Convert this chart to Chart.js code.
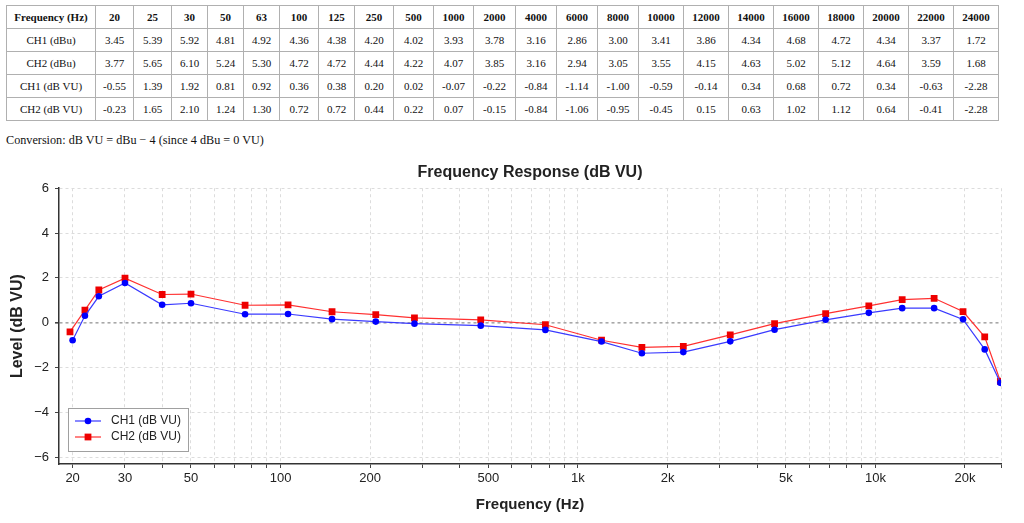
<!DOCTYPE html>
<html>
<head>
<meta charset="utf-8">
<script src="https://cdn.jsdelivr.net/npm/chart.js@4.4.1/dist/chart.umd.min.js"></script>
<style>
  body { margin: 0; background: #fff; width: 1024px; height: 523px; position: relative; overflow: hidden; }
  #tbl { position: absolute; left: 6px; top: 5px; border-collapse: collapse; table-layout: fixed; width: 992px;
         font-family: 'Liberation Serif', 'Times New Roman', serif; font-size: 11px; color: #111; }
  #tbl td, #tbl th { border: 1px solid #b0b0b0; height: 22px; padding: 0; text-align: center; }
  #tbl th { font-weight: bold; }
  #note { position: absolute; left: 6px; top: 133px; font-family: 'Liberation Serif', 'Times New Roman', serif; font-size: 12.2px; color: #111; }
  #wrap { position: absolute; left: 0; top: 150px; width: 1024px; height: 373px; }
</style>
</head>
<body>
<table id="tbl"></table>
<div id="note">Conversion: dB VU = dBu − 4 (since 4 dBu = 0 VU)</div>
<div id="wrap"><canvas id="fr-chart"></canvas></div>
<script>
// table values
const tableFreqs = ['20', '25', '30', '50', '63', '100', '125', '250', '500', '1000', '2000', '4000', '6000', '8000', '10000', '12000', '14000', '16000', '18000', '20000', '22000', '24000'];
const ch1Dbu = ['3.45', '5.39', '5.92', '4.81', '4.92', '4.36', '4.38', '4.20', '4.02', '3.93', '3.78', '3.16', '2.86', '3.00', '3.41', '3.86', '4.34', '4.68', '4.72', '4.34', '3.37', '1.72'];
const ch2Dbu = ['3.77', '5.65', '6.10', '5.24', '5.30', '4.72', '4.72', '4.44', '4.22', '4.07', '3.85', '3.16', '2.94', '3.05', '3.55', '4.15', '4.63', '5.02', '5.12', '4.64', '3.59', '1.68'];
const ch1Vu = ['-0.55', '1.39', '1.92', '0.81', '0.92', '0.36', '0.38', '0.20', '0.02', '-0.07', '-0.22', '-0.84', '-1.14', '-1.00', '-0.59', '-0.14', '0.34', '0.68', '0.72', '0.34', '-0.63', '-2.28'];
const ch2Vu = ['-0.23', '1.65', '2.10', '1.24', '1.30', '0.72', '0.72', '0.44', '0.22', '0.07', '-0.15', '-0.84', '-1.06', '-0.95', '-0.45', '0.15', '0.63', '1.02', '1.12', '0.64', '-0.41', '-2.28'];

// chart values
const ch1Freqs = [20, 22, 24.5, 30, 40, 50, 76, 106, 149, 209, 282, 471, 777, 1200, 1640, 2260, 3250, 4580, 6800, 9500, 12300, 15750, 19700, 23300, 26300];
const ch1Level = [-0.78, 0.31, 1.18, 1.77, 0.8, 0.87, 0.38, 0.39, 0.16, 0.05, -0.04, -0.13, -0.32, -0.84, -1.36, -1.31, -0.83, -0.31, 0.13, 0.44, 0.65, 0.65, 0.15, -1.19, -2.68];
const ch2Freqs = [19.6, 22, 24.5, 30, 40, 50, 76, 106, 149, 209, 282, 471, 777, 1200, 1640, 2260, 3250, 4580, 6800, 9500, 12300, 15750, 19700, 23300, 26300];
const ch2Level = [-0.41, 0.56, 1.46, 1.99, 1.26, 1.28, 0.78, 0.8, 0.49, 0.36, 0.22, 0.13, -0.09, -0.78, -1.1, -1.05, -0.54, -0.04, 0.41, 0.75, 1.03, 1.09, 0.5, -0.63, -2.61];

const xTickValues = [20, 30, 50, 100, 200, 500, 1000, 2000, 5000, 10000, 20000];
const xTickLabels = ['20', '30', '50', '100', '200', '500', '1k', '2k', '5k', '10k', '20k'];
const yTickValues = [-6, -4, -2, 0, 2, 4, 6];

const colWidths = [89, 38, 38, 36, 36, 36, 39, 36, 39, 40, 40, 42, 41, 41, 41, 45, 45, 45, 45, 45, 45, 45, 45];

// build table
const tbl = document.getElementById('tbl');
let html = '<colgroup>' + colWidths.map(w => '<col style="width:' + w + 'px">').join('') + '</colgroup>';
html += '<tr><th>Frequency (Hz)</th>' + tableFreqs.map(f => '<th>' + f + '</th>').join('') + '</tr>';
const rows = [['CH1 (dBu)', ch1Dbu], ['CH2 (dBu)', ch2Dbu], ['CH1 (dB VU)', ch1Vu], ['CH2 (dB VU)', ch2Vu]];
rows.forEach(r => {
  html += '<tr><td>' + r[0] + '</td>' + r[1].map(v => '<td>' + v + '</td>').join('') + '</tr>';
});
tbl.innerHTML = html;

// every 1..9 decade step gets a grid line, only some get labels
const gridTicks = [];
for (let d = 10; d <= 10000; d *= 10) {
  for (let m = 1; m <= 9; m++) {
    const v = m * d;
    if (v >= 20 && v <= 20000) gridTicks.push(v);
  }
}

const legendBox = {
  id: 'legendBox',
  afterDraw(chart) {
    const ctx = chart.ctx;
    const a = chart.chartArea;
    const x = a.left + 9, y = a.bottom - 56, w = 120, h = 43;
    ctx.save();
    ctx.fillStyle = '#fff';
    ctx.fillRect(x, y, w, h);
    ctx.strokeStyle = '#a0a0a0';
    ctx.lineWidth = 1;
    ctx.strokeRect(x + 0.5, y + 0.5, w, h);
    const items = [
      { label: 'CH1 (dB VU)', ds: chart.data.datasets[0], yy: y + 13 },
      { label: 'CH2 (dB VU)', ds: chart.data.datasets[1], yy: y + 29 }
    ];
    ctx.font = '12px "Liberation Sans", Arial, sans-serif';
    ctx.textBaseline = 'middle';
    items.forEach(it => {
      ctx.strokeStyle = it.ds.borderColor;
      ctx.lineWidth = 1.2;
      ctx.beginPath();
      ctx.moveTo(x + 7, it.yy);
      ctx.lineTo(x + 33, it.yy);
      ctx.stroke();
      ctx.fillStyle = it.ds.pointBackgroundColor;
      ctx.beginPath();
      if (it.ds.pointStyle === 'circle') {
        ctx.arc(x + 20, it.yy, it.ds.pointRadius, 0, Math.PI * 2);
      } else {
        const s = it.ds.pointRadius * Math.SQRT1_2;
        ctx.rect(x + 20 - s, it.yy - s, 2 * s, 2 * s);
      }
      ctx.fill();
      ctx.fillStyle = '#222';
      ctx.fillText(it.label, x + 43, it.yy);
    });
    ctx.restore();
  }
};

const sansFont = '"Liberation Sans", Arial, sans-serif';

new Chart(document.getElementById('fr-chart'), {
  type: 'line',
  data: {
    datasets: [
      {
        label: 'CH1 (dB VU)',
        data: ch1Freqs.map((f, i) => ({ x: f, y: ch1Level[i] })),
        borderColor: '#3a3aff',
        backgroundColor: '#0000ff',
        pointBackgroundColor: '#0000ff',
        pointBorderWidth: 0,
        pointStyle: 'circle',
        pointRadius: 3.3,
        borderWidth: 1.2,
        tension: 0
      },
      {
        label: 'CH2 (dB VU)',
        data: ch2Freqs.map((f, i) => ({ x: f, y: ch2Level[i] })),
        borderColor: '#ff3030',
        backgroundColor: '#ff0000',
        pointBackgroundColor: '#ee0000',
        pointBorderWidth: 0,
        pointStyle: 'rect',
        pointRadius: 4.8,
        borderWidth: 1.2,
        tension: 0
      }
    ]
  },
  options: {
    responsive: true,
    maintainAspectRatio: false,
    animation: false,
    layout: { padding: { left: 0, right: 23, top: 0, bottom: 0 } },
    plugins: {
      legend: { display: false },
      tooltip: { enabled: false },
      title: {
        display: true,
        text: 'Frequency Response (dB VU)',
        fullSize: false,
        color: '#222',
        font: { family: sansFont, size: 16, weight: 'bold' },
        padding: { top: 13, bottom: 6 }
      }
    },
    scales: {
      x: {
        type: 'logarithmic',
        min: 18,
        max: 26430,
        afterBuildTicks(scale) {
          scale.ticks = gridTicks.concat([26430]).map(v => ({ value: v }));
        },
        afterFit(scale) { scale.height = 59; },
        ticks: {
          autoSkip: false,
          maxRotation: 0,
          padding: 3,
          color: '#222',
          font: { family: sansFont, size: 13 },
          callback(value) {
            const i = xTickValues.indexOf(value);
            return i >= 0 ? xTickLabels[i] : '';
          }
        },
        grid: {
          color: '#dcdcdc',
          lineWidth: 1,
          tickLength: 4,
          tickColor: '#444'
        },
        border: { display: true, color: '#333', width: 1.5, dash: [3, 3] },
        title: {
          display: true,
          text: 'Frequency (Hz)',
          color: '#222',
          font: { family: sansFont, size: 15, weight: 'bold' },
          padding: { top: 0, bottom: 9 }
        }
      },
      y: {
        min: -6.3,
        max: 6,
        afterBuildTicks(scale) {
          scale.ticks = yTickValues.map(v => ({ value: v }));
        },
        afterFit(scale) { scale.width = 59; },
        ticks: {
          padding: 6,
          color: '#222',
          font: { family: sansFont, size: 13 },
          callback: value => String(value).replace('-', '\u2212')
        },
        grid: {
          color: ctx => (ctx.tick && ctx.tick.value === 0 ? '#a8a8a8' : '#dcdcdc'),
          lineWidth: ctx => (ctx.tick && ctx.tick.value === 0 ? 1.6 : 1),
          tickLength: 4,
          tickColor: '#444'
        },
        border: { display: true, color: '#333', width: 1.5, dash: [3, 3] },
        title: {
          display: true,
          text: 'Level (dB VU)',
          color: '#222',
          font: { family: sansFont, size: 16, weight: 'bold' },
          padding: { top: 8, bottom: 0 }
        }
      }
    }
  },
  plugins: [legendBox]
});
</script>
</body>
</html>
